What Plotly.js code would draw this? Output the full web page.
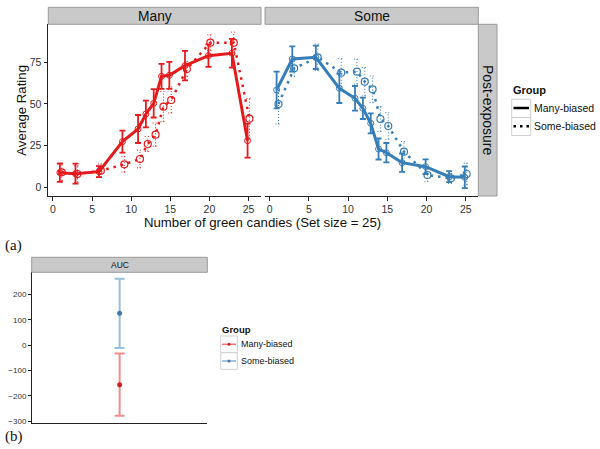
<!DOCTYPE html>
<html><head><meta charset="utf-8">
<script src="https://cdn.plot.ly/plotly-3.0.1.min.js"></script>
<style>html,body{margin:0;padding:0;background:#fff}</style>
</head><body><div id="chart" style="width:600px;height:449px"></div>
<script>
// ---- data ----
const candies = [1, 3, 6, 9, 11, 12, 13, 14, 15, 17, 20, 23, 25];
const groups = ['Many-biased', 'Some-biased'];
const panels = ['Many', 'Some'];
// Panel "Many"
const manyPanelManyBiasedMean = [8.8, 8.2, 9.4, 27.4, 35, 44, 50.4, 66.6, 67.2, 73, 79, 80.4, 28];
const manyPanelManyBiasedErr  = [5.5, 6, 3.3, 6.6, 8.4, 8, 8.5, 7.5, 8.1, 8.8, 6.7, 8.6, 10.2];
const manyPanelSomeBiasedMean = [9, 8, 10, 13.8, 17, 26, 31.6, 48.4, 52.4, 71, 86.8, 86.8, 41.2];
const manyPanelSomeBiasedErr  = [5, 5, 4, 4.7, 5.3, 4.5, 7, 9, 7.8, 4.6, 4.7, 6.3, 12];
// Panel "Some"
const somePanelManyBiasedMean = [58.4, 77, 78, 59.4, 53.4, 47.4, 38.4, 23, 20.8, 14.8, 12.4, 6.4, 6];
const somePanelManyBiasedErr  = [11, 7.5, 7, 8.8, 7.4, 6.4, 6, 6.3, 5.8, 5.5, 4.4, 3.3, 6.5];
const somePanelSomeBiasedMean = [50, 71.4, 78, 68.8, 69.4, 63.4, 58.8, 41, 36.8, 21.4, 7.4, 5.4, 8];
const somePanelSomeBiasedErr  = [12, 5, 8, 8.5, 7.5, 8.5, 8, 7.5, 8, 6, 4, 3, 6.5];
// AUC panel
const aucMean = [-155.5, 126];
const aucErr  = [123, 137];
const xTicks = [0, 5, 10, 15, 20, 25];
const yTicks = [0, 25, 50, 75];
const aucTicks = [-300, -200, -100, 0, 100, 200];

// ---- helpers ----
const W = 600, H = 449;
const px = v => v / W;
const py = v => 1 - v / H;
const RED = '#E41A1C', BLUE = '#377EB8';
const FONT = 'Liberation Sans, Arial, Helvetica, sans-serif';
const DODGE = 0.12;

function shift(arr, d) { return arr.map(v => v + d); }

function dottedErr(xs, mean, err, color, xa, ya) {
  const X = [], Y = [];
  const cap = 0.38;
  xs.forEach((x, i) => {
    const lo = mean[i] - err[i], hi = mean[i] + err[i];
    X.push(x, x, null, x - cap, x + cap, null, x - cap, x + cap, null);
    Y.push(lo, hi, null, hi, hi, null, lo, lo, null);
  });
  return {x: X, y: Y, xaxis: xa, yaxis: ya, mode: 'lines', hoverinfo: 'skip', showlegend: false,
    line: {color: color, width: 1, dash: '1px,2px'}};
}

function solidSeries(xs, mean, err, color, xa, ya, name) {
  return {x: xs, y: mean, xaxis: xa, yaxis: ya, mode: 'lines+markers', name: name, showlegend: false,
    line: {color: color, width: 3},
    marker: {symbol: 'circle-open', size: 6, color: color, line: {width: 1}},
    error_y: {type: 'data', array: err, visible: true, color: color, thickness: 1.8, width: 3}};
}
function dottedSeries(xs, mean, color, xa, ya, name) {
  return {x: xs, y: mean, xaxis: xa, yaxis: ya, mode: 'lines+markers', name: name, showlegend: false,
    line: {color: color, width: 2.5, dash: '2.5px,5px'},
    marker: {symbol: 'circle-open', size: 7, color: color, line: {width: 1.2}}};
}

const xm = shift(candies, -DODGE), xs = shift(candies, DODGE);
const traces = [
  dottedErr(xs, manyPanelSomeBiasedMean, manyPanelSomeBiasedErr, RED, 'x', 'y'),
  dottedSeries(xs, manyPanelSomeBiasedMean, RED, 'x', 'y', groups[1]),
  solidSeries(xm, manyPanelManyBiasedMean, manyPanelManyBiasedErr, RED, 'x', 'y', groups[0]),
  dottedErr(xs, somePanelSomeBiasedMean, somePanelSomeBiasedErr, BLUE, 'x2', 'y2'),
  dottedSeries(xs, somePanelSomeBiasedMean, BLUE, 'x2', 'y2', groups[1]),
  solidSeries(xm, somePanelManyBiasedMean, somePanelManyBiasedErr, BLUE, 'x2', 'y2', groups[0]),
  {x: [0], y: [aucMean[0]], xaxis: 'x3', yaxis: 'y3', mode: 'markers', name: groups[0], showlegend: false,
   marker: {color: 'rgba(200,20,30,0.9)', size: 5},
   error_y: {type: 'data', array: [aucErr[0]], color: 'rgba(228,26,28,0.5)', thickness: 2, width: 5}},
  {x: [0], y: [aucMean[1]], xaxis: 'x3', yaxis: 'y3', mode: 'markers', name: groups[1], showlegend: false,
   marker: {color: 'rgba(50,110,165,0.9)', size: 5},
   error_y: {type: 'data', array: [aucErr[1]], color: 'rgba(55,126,184,0.5)', thickness: 2, width: 5}}
];

const axBase = {showgrid: false, zeroline: false, showline: true, linecolor: '#222', linewidth: 1.3,
  ticks: 'outside', ticklen: 3.5, tickcolor: '#222', tickwidth: 1,
  tickfont: {family: FONT, size: 10.5, color: '#333'}, fixedrange: true};

function ann(text, x, y, size, extra) {
  return Object.assign({text: text, xref: 'paper', yref: 'paper', x: px(x), y: py(y),
    xanchor: 'center', yanchor: 'middle', showarrow: false,
    font: {family: FONT, size: size, color: '#111'}}, extra || {});
}
const SERIF = {family: 'Liberation Serif, Times New Roman, serif', size: 15, color: '#111'};

const layout = {
  width: W, height: H, margin: {l: 0, r: 0, t: 0, b: 0},
  paper_bgcolor: '#fff', plot_bgcolor: '#fff', showlegend: false,
  font: {family: FONT, color: '#111'},
  xaxis: Object.assign({}, axBase, {domain: [px(48.3), px(261)], range: [-0.6, 26.6], anchor: 'y', tickvals: xTicks, ticklabelstandoff: 0}),
  yaxis: Object.assign({}, axBase, {domain: [py(196), py(24.3)], range: [-5.2, 97.8], anchor: 'x', tickvals: yTicks}),
  xaxis2: Object.assign({}, axBase, {domain: [px(265), px(478.3)], range: [-0.6, 26.6], anchor: 'y2', tickvals: xTicks, ticklabelstandoff: 0}),
  yaxis2: Object.assign({}, axBase, {domain: [py(196), py(24.3)], range: [-5.2, 97.8], anchor: 'x2',
    showline: false, ticks: '', showticklabels: false}),
  xaxis3: Object.assign({}, axBase, {domain: [px(32.3), px(207)], range: [-1, 1], anchor: 'y3',
    ticks: '', showticklabels: false}),
  yaxis3: Object.assign({}, axBase, {domain: [py(422.7), py(272.3)], range: [-305.5, 288], anchor: 'x3',
    tickvals: aucTicks, ticklen: 3, tickfont: {family: FONT, size: 8, color: '#333'}}),
  shapes: [
    {type: 'rect', xref: 'paper', yref: 'paper', x0: px(48.3), x1: px(261), y0: py(24.3), y1: py(7.3), fillcolor: '#c9c9c9', line: {color: '#9a9a9a', width: 1}},
    {type: 'rect', xref: 'paper', yref: 'paper', x0: px(265), x1: px(478.3), y0: py(24.3), y1: py(7.3), fillcolor: '#c9c9c9', line: {color: '#9a9a9a', width: 1}},
    {type: 'rect', xref: 'paper', yref: 'paper', x0: px(478.3), x1: px(497), y0: py(196), y1: py(24.3), fillcolor: '#c9c9c9', line: {color: '#9a9a9a', width: 1}},
    {type: 'rect', xref: 'paper', yref: 'paper', x0: px(31.7), x1: px(207.3), y0: py(272.3), y1: py(257.3), fillcolor: '#c9c9c9', line: {color: '#9a9a9a', width: 1}},
    // top legend keys
    {type: 'rect', xref: 'paper', yref: 'paper', x0: px(511.7), x1: px(530.7), y0: py(117.5), y1: py(99.3), fillcolor: '#fff', line: {color: '#d0d0d0', width: 1}},
    {type: 'rect', xref: 'paper', yref: 'paper', x0: px(511.7), x1: px(530.7), y0: py(135.5), y1: py(117.5), fillcolor: '#fff', line: {color: '#d0d0d0', width: 1}},
    {type: 'line', xref: 'paper', yref: 'paper', x0: px(513.5), x1: px(529), y0: py(108), y1: py(108), line: {color: '#000', width: 2.5}},
    {type: 'line', xref: 'paper', yref: 'paper', x0: px(513.5), x1: px(529), y0: py(126.3), y1: py(126.3), line: {color: '#000', width: 2.5, dash: '2.5px,4px'}},
    // bottom legend keys
    {type: 'rect', xref: 'paper', yref: 'paper', x0: px(220.7), x1: px(237.3), y0: py(352.7), y1: py(336), fillcolor: '#fff', line: {color: '#d0d0d0', width: 1}},
    {type: 'rect', xref: 'paper', yref: 'paper', x0: px(220.7), x1: px(237.3), y0: py(369.3), y1: py(352.7), fillcolor: '#fff', line: {color: '#d0d0d0', width: 1}},
    {type: 'line', xref: 'paper', yref: 'paper', x0: px(222), x1: px(236), y0: py(344.3), y1: py(344.3), line: {color: 'rgba(228,26,28,0.6)', width: 1.5}},
    {type: 'line', xref: 'paper', yref: 'paper', x0: px(222), x1: px(236), y0: py(361), y1: py(361), line: {color: 'rgba(55,126,184,0.6)', width: 1.5}},
    {type: 'circle', xref: 'paper', yref: 'paper', x0: px(227.5), x1: px(230.5), y0: py(345.8), y1: py(342.8), fillcolor: 'rgba(200,20,30,0.9)', line: {width: 0}},
    {type: 'circle', xref: 'paper', yref: 'paper', x0: px(227.5), x1: px(230.5), y0: py(362.5), y1: py(359.5), fillcolor: 'rgba(50,110,165,0.9)', line: {width: 0}}
  ],
  annotations: [
    ann(panels[0], 154.6, 16, 13.8),
    ann(panels[1], 371.6, 16, 13.8),
    ann('Post-exposure', 488, 110, 14, {textangle: 90}),
    ann('AUC', 119.5, 265, 8.5),
    ann('Average Rating', 21.7, 110, 13.2, {textangle: -90}),
    ann('Number of green candies (Set size = 25)', 262.5, 222, 13.2),
    ann('(a)', 3, 245.5, 15, {xanchor: 'left', font: SERIF}),
    ann('(b)', 3, 436.5, 15, {xanchor: 'left', font: SERIF}),
    ann('<b>Group</b>', 511, 90, 11, {xanchor: 'left'}),
    ann(groups[0], 532, 108, 10.5, {xanchor: 'left'}),
    ann(groups[1], 532, 126, 10.5, {xanchor: 'left'}),
    ann('<b>Group</b>', 220, 329, 9.5, {xanchor: 'left'}),
    ann(groups[0], 238.5, 344.3, 9, {xanchor: 'left'}),
    ann(groups[1], 238.5, 361, 9, {xanchor: 'left'})
  ]
};

Plotly.newPlot('chart', traces, layout, {staticPlot: true, displayModeBar: false});
</script>
</body></html>
